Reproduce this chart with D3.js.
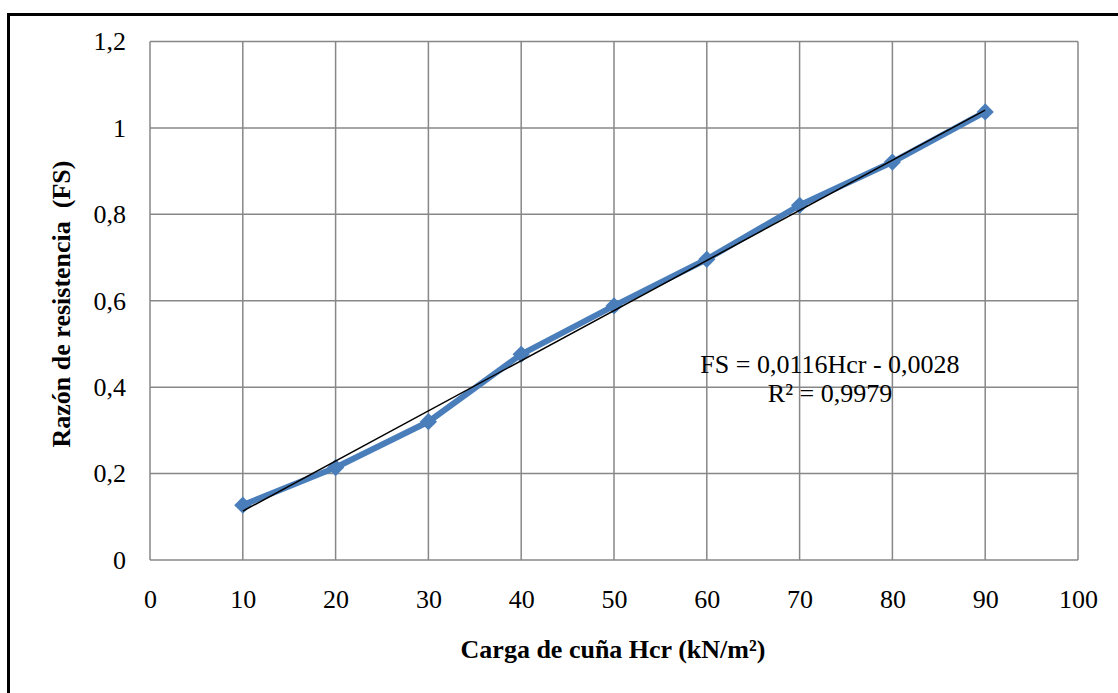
<!DOCTYPE html>
<html>
<head>
<meta charset="utf-8">
<script src="https://cdn.jsdelivr.net/npm/d3@7"></script>
<style>
  html, body { margin: 0; padding: 0; background: #fff; }
  svg { display: block; }
  text { font-family: "Liberation Serif", "Times New Roman", serif; fill: #000; }
</style>
</head>
<body>
<svg id="chart" width="1118" height="693"></svg>
<script>
// Carga de cuña vs. razón de resistencia
const cargaHcr = [10, 20, 30, 40, 50, 60, 70, 80, 90];
const razonFS = [0.127, 0.214, 0.320, 0.476, 0.588, 0.696, 0.821, 0.921, 1.037];
const xTicks = [0, 10, 20, 30, 40, 50, 60, 70, 80, 90, 100];
const yTicks = [0, 0.2, 0.4, 0.6, 0.8, 1.0, 1.2];
// Linear trend: FS = 0,0116·Hcr − 0,0028
const trendSlope = 0.0116;
const trendIntercept = -0.0028;
const trendRange = [10, 90];
const equationLines = ["FS = 0,0116Hcr - 0,0028", "R² = 0,9979"];
const xTitle = "Carga de cuña Hcr (kN/m²)";
const yTitle = "Razón de resistencia  (FS)";

const svg = d3.select("#chart");
const fmt = v => (v === 0 ? "0" : d3.format("~g")(+v.toFixed(1))).replace(".", ",");

const plot = { left: 150, right: 1078, top: 41.5, bottom: 560 };
const x = d3.scaleLinear().domain([0, 100]).range([plot.left, plot.right]);
const y = d3.scaleLinear().domain([0, 1.2]).range([plot.bottom, plot.top]);

const fontSize = 26;

// Outer frame
svg.append("path")
  .attr("d", "M8.5,700 L8.5,14.5 L1125,14.5")
  .attr("fill", "none").attr("stroke", "#000").attr("stroke-width", 3);

const gridColor = "#878787";

// Gridlines
svg.append("g").selectAll("line").data(xTicks).join("line")
  .attr("x1", d => x(d)).attr("x2", d => x(d))
  .attr("y1", plot.top).attr("y2", plot.bottom)
  .attr("stroke", gridColor).attr("stroke-width", 1.5);
svg.append("g").selectAll("line").data(yTicks).join("line")
  .attr("x1", plot.left).attr("x2", plot.right)
  .attr("y1", d => y(d)).attr("y2", d => y(d))
  .attr("stroke", gridColor).attr("stroke-width", 1.5);

// Axes (labels only, lines drawn by the grid)
const xAxis = d3.axisBottom(x).tickValues(xTicks).tickFormat(d => String(d)).tickSize(0).tickPadding(30);
const gx = svg.append("g").attr("transform", `translate(0,${plot.bottom})`).call(xAxis);
gx.select(".domain").remove();
gx.selectAll("text").attr("font-size", fontSize).attr("font-family", "Liberation Serif").attr("fill", "#000");

const yAxis = d3.axisLeft(y).tickValues(yTicks).tickFormat(fmt).tickSize(0).tickPadding(24);
const gy = svg.append("g").attr("transform", `translate(${plot.left},0)`).call(yAxis);
gy.select(".domain").remove();
gy.selectAll("text").attr("font-size", fontSize).attr("font-family", "Liberation Serif").attr("fill", "#000");

// Data series
const pts = cargaHcr.map((h, i) => [h, razonFS[i]]);
svg.append("path")
  .datum(pts)
  .attr("d", d3.line().x(d => x(d[0])).y(d => y(d[1])))
  .attr("fill", "none").attr("stroke", "#4A7EBB").attr("stroke-width", 6)
  .attr("stroke-linejoin", "round");

svg.append("g").selectAll("path").data(pts).join("path")
  .attr("d", d3.symbol().type(d3.symbolDiamond2).size(190))
  .attr("transform", d => `translate(${x(d[0])},${y(d[1])})`)
  .attr("fill", "#4A7EBB");

// Trendline
svg.append("path")
  .datum(trendRange.map(h => [h, trendSlope * h + trendIntercept]))
  .attr("d", d3.line().x(d => x(d[0])).y(d => y(d[1])))
  .attr("fill", "none").attr("stroke", "#000").attr("stroke-width", 1.5);

// Equation label
svg.append("text")
  .attr("x", 830).attr("y", 373).attr("text-anchor", "middle").attr("font-size", fontSize)
  .text(equationLines[0]);
svg.append("text")
  .attr("x", 830).attr("y", 402).attr("text-anchor", "middle").attr("font-size", fontSize)
  .text(equationLines[1]);

// Axis titles
svg.append("text")
  .attr("x", 613).attr("y", 658).attr("text-anchor", "middle")
  .attr("font-size", fontSize).attr("font-weight", "bold")
  .text(xTitle);
svg.append("text")
  .attr("transform", "translate(70,304) rotate(-90)")
  .attr("text-anchor", "middle")
  .attr("font-size", fontSize).attr("font-weight", "bold")
  .style("white-space", "pre")
  .text(yTitle);
</script>
</body>
</html>
